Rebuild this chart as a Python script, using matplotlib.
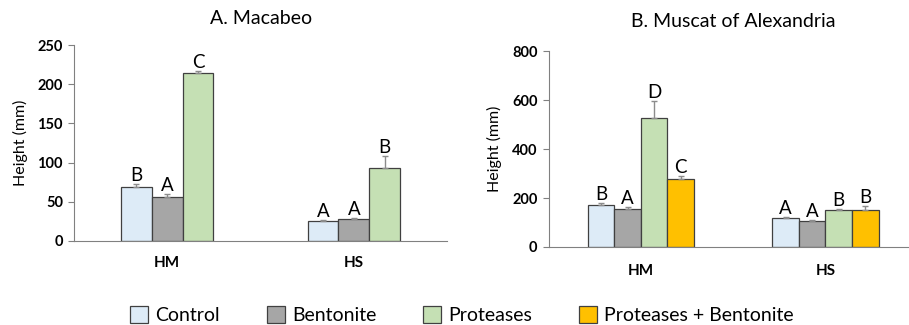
import matplotlib.pyplot as plt
import numpy as np

plt.rcParams['font.family'] = ['Lato', 'DejaVu Sans']

groups = ['HM', 'HS']
series = ['Control', 'Bentonite', 'Proteases', 'Proteases + Bentonite']
colors = ['#DDEBF7', '#A6A6A6', '#C5E0B4', '#FFC000']

# A. Macabeo (no Proteases + Bentonite)
mac_vals = [[69, 25], [56, 28.5], [214, 93]]
mac_err = [[4, 1.3], [4.5, 1], [2.5, 16]]
mac_letters = [['B', 'A'], ['A', 'A'], ['C', 'B']]

# B. Muscat of Alexandria
mus_vals = [[170, 117], [156, 106], [527, 149], [279, 152]]
mus_err = [[9, 4], [7, 5], [67, 7], [11, 15]]
mus_letters = [['B', 'A'], ['A', 'A'], ['D', 'B'], ['C', 'B']]

fig = plt.figure(figsize=(9.09, 3.25), dpi=100)


def draw_panel(ax, vals, errs, letters, width, ymax, step, title, tpad, xpad):
    x = np.arange(len(groups))
    n = len(vals)
    for i in range(n):
        pos = x + (i - (n - 1) / 2) * width
        ax.bar(pos, vals[i], width, color=colors[i], edgecolor='#404040',
               linewidth=0.9, zorder=2)
        ax.errorbar(pos, vals[i], yerr=[np.zeros(len(groups)), errs[i]],
                    fmt='none', ecolor='#8C8C8C', elinewidth=1, capsize=2.5,
                    capthick=1, zorder=3)
        for j in range(len(groups)):
            ax.text(pos[j], vals[i][j] + errs[i][j], letters[i][j],
                    ha='center', va='bottom', fontsize=13.5)
    ax.set_xlim(-0.5, 1.5)
    ax.set_ylim(0, ymax)
    ax.set_yticks(np.arange(0, ymax + 1, step))
    ax.set_xticks(x)
    ax.set_xticklabels(groups, fontweight='bold', fontsize=11)
    for lab in ax.get_yticklabels():
        lab.set_fontweight('bold')
        lab.set_fontsize(10.5)
    ax.tick_params(axis='x', length=0, pad=xpad)
    ax.tick_params(axis='y', length=4, color='#808080', width=0.8, pad=4)
    ax.spines['top'].set_visible(False)
    ax.spines['right'].set_visible(False)
    ax.spines['left'].set_color('#808080')
    ax.spines['bottom'].set_color('#808080')
    ax.set_ylabel('Height (mm)', fontsize=11.5, labelpad=7)
    ax.set_title(title, fontsize=14, pad=tpad)


ax1 = fig.add_axes([0.0814, 0.2585, 0.4105, 0.603])
draw_panel(ax1, mac_vals, mac_err, mac_letters, 0.165, 250, 50,
           'A. Macabeo', 15, 11)

ax2 = fig.add_axes([0.6035, 0.24, 0.406, 0.603])
draw_panel(ax2, mus_vals, mus_err, mus_letters, 0.144, 800, 200,
           'B. Muscat of Alexandria', 17, 12)

handles = [plt.Rectangle((0, 0), 1, 1, facecolor=c, edgecolor='#404040',
                         linewidth=0.9) for c in colors]
fig.legend(handles, series, loc='center', bbox_to_anchor=(0.508, 0.031),
           ncol=4, frameon=False, fontsize=14, handlelength=0.95,
           handleheight=0.95, handletextpad=0.35, columnspacing=2.4,
           borderpad=0, borderaxespad=0)

fig.savefig('out.png', dpi=100)
